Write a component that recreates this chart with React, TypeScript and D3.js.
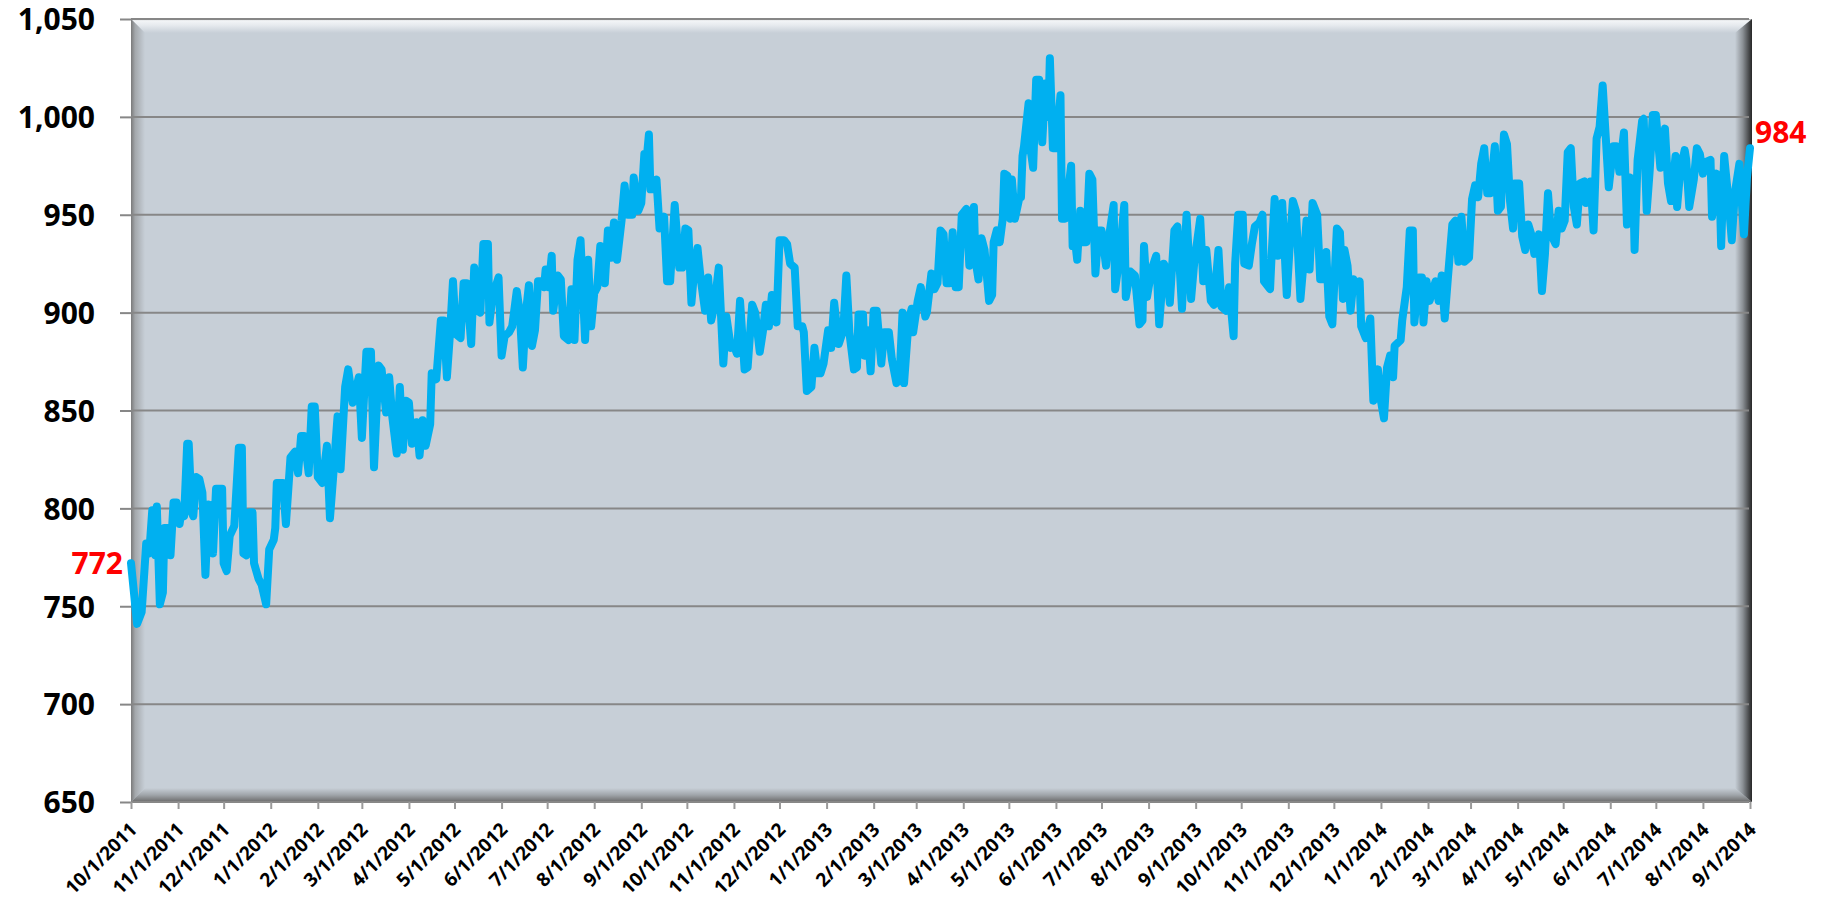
import React, { useEffect, useRef } from 'react';
import * as d3 from 'd3';

// daily closes; offsets are calendar days after 10/1/2011
const startDate = new Date(2011, 9, 1);
const endDate = new Date(2014, 8, 1);

const dayOffsets = [
  0, 4, 7, 9, 10, 12, 14, 16, 17, 19, 21, 22, 25, 26, 28, 30, 32, 33, 35, 37,
  38, 40, 41, 43, 45, 47, 49, 51, 53, 54, 56, 60, 61, 63, 65, 68, 71, 73, 74, 76,
  78, 80, 81, 84, 86, 89, 91, 94, 95, 96, 100, 102, 105, 108, 110, 112, 114, 117, 119, 121,
  123, 126, 129, 131, 133, 136, 138, 141, 143, 146, 150, 152, 155, 158, 160, 163, 165, 168, 170, 172,
  175, 177, 179, 181, 183, 185, 188, 190, 192, 194, 197, 198, 201, 204, 206, 208, 210, 212, 214, 217,
  219, 221, 224, 226, 228, 230, 232, 235, 236, 238, 242, 244, 246, 249, 251, 254, 256, 258, 260, 262,
  264, 266, 268, 270, 272, 273, 275, 277, 278, 281, 283, 285, 288, 290, 292, 294, 296, 299, 301, 303,
  305, 307, 309, 312, 314, 316, 318, 320, 323, 325, 327, 330, 331, 334, 336, 338, 339, 341, 342, 344,
  346, 348, 351, 353, 355, 358, 361, 363, 365, 367, 369, 371, 373, 375, 378, 380, 382, 384, 387, 390,
  392, 395, 397, 399, 401, 404, 406, 409, 411, 414, 416, 418, 420, 422, 425, 427, 430, 432, 434, 437,
  439, 442, 443, 445, 448, 450, 452, 454, 456, 459, 461, 463, 466, 469, 471, 473, 476, 478, 479, 482,
  483, 485, 487, 489, 491, 494, 496, 499, 501, 504, 506, 508, 509, 512, 514, 515, 518, 520, 523, 524,
  527, 529, 531, 533, 535, 537, 539, 541, 543, 545, 547, 550, 552, 555, 556, 558, 560, 562, 565, 567,
  568, 570, 572, 574, 575, 577, 579, 580, 582, 585, 586, 587, 588, 591, 592, 594, 596, 598, 600, 602,
  604, 605, 607, 609, 612, 613, 615, 619, 620, 622, 623, 625, 627, 629, 631, 633, 635, 637, 639, 642,
  644, 647, 648, 651, 654, 655, 658, 661, 664, 666, 667, 669, 672, 675, 677, 680, 682, 684, 687, 689,
  692, 695, 698, 700, 704, 706, 708, 711, 713, 716, 718, 721, 723, 726, 727, 729, 732, 733, 736, 738,
  740, 743, 745, 746, 750, 751, 753, 755, 758, 761, 763, 765, 767, 770, 772, 774, 776, 778, 781, 783,
  785, 787, 789, 791, 794, 796, 798, 799, 801, 803, 805, 807, 809, 810, 813, 816, 818, 821, 823, 825,
  827, 829, 831, 832, 836, 837, 840, 842, 844, 845, 848, 850, 851, 853, 855, 859, 861, 863, 865, 867,
  870, 872, 874, 876, 878, 881, 883, 885, 887, 889, 891, 893, 895, 898, 900, 902, 904, 906, 908, 910,
  911, 914, 916, 918, 920, 922, 924, 927, 929, 931, 933, 935, 938, 940, 942, 944, 946, 948, 950, 952,
  954, 957, 958, 961, 963, 965, 967, 969, 971, 973, 976, 978, 980, 983, 985, 987, 989, 990, 992, 995,
  996, 998, 1000, 1002, 1004, 1007, 1010, 1012, 1014, 1017, 1018, 1020, 1023, 1024, 1026, 1029, 1031, 1033, 1035, 1037,
  1040, 1041, 1044, 1046, 1047, 1049, 1052, 1054, 1056, 1059, 1062, 1064, 1066,
];

const prices = [
  772, 741, 747, 770, 782, 777, 799, 776, 801, 751, 757, 790, 790, 776, 803, 803, 792, 798, 796, 833,
  833, 798, 796, 816, 815, 808, 766, 802, 801, 777, 810, 810, 772, 768, 786, 791, 831, 831, 777, 776,
  798, 798, 772, 764, 761, 751, 779, 784, 790, 813, 813, 792, 826, 829, 818, 837, 837, 818, 852, 852,
  816, 813, 832, 795, 815, 847, 820, 862, 871, 854, 867, 836, 880, 880, 821, 873, 871, 849, 867, 847,
  828, 862, 830, 855, 854, 833, 844, 827, 845, 832, 843, 869, 866, 896, 896, 867, 889, 916, 889, 887,
  915, 915, 884, 923, 901, 900, 935, 935, 895, 908, 918, 878, 888, 890, 893, 911, 900, 872, 900, 914,
  883, 891, 916, 916, 913, 922, 913, 929, 901, 919, 917, 888, 886, 912, 886, 927, 937, 886, 927, 893,
  910, 913, 934, 915, 942, 928, 946, 927, 947, 965, 950, 950, 969, 952, 956, 981, 974, 991, 963, 963,
  968, 943, 949, 916, 916, 955, 923, 923, 943, 942, 905, 923, 933, 918, 901, 918, 896, 903, 923, 874,
  898, 882, 883, 879, 906, 871, 872, 904, 900, 880, 890, 904, 893, 909, 895, 937, 937, 935, 925, 923,
  893, 893, 890, 860, 862, 882, 869, 869, 874, 891, 882, 905, 884, 891, 919, 890, 871, 872, 899, 899,
  878, 891, 870, 901, 901, 874, 890, 890, 876, 864, 866, 900, 864, 896, 902, 890, 906, 913, 898, 900,
  920, 912, 915, 942, 940, 915, 915, 941, 913, 913, 950, 953, 924, 954, 927, 917, 938, 932, 906, 909,
  936, 942, 936, 948, 971, 970, 948, 968, 948, 959, 959, 980, 985, 1007, 985, 974, 1019, 1019, 987, 1017,
  1000, 1030, 984, 984, 1011, 948, 948, 975, 934, 934, 927, 952, 936, 936, 971, 968, 920, 942, 942, 924,
  939, 955, 912, 929, 955, 908, 921, 919, 894, 896, 934, 908, 922, 929, 894, 925, 922, 905, 942, 944,
  902, 950, 907, 925, 948, 916, 932, 906, 904, 932, 903, 901, 913, 888, 925, 950, 950, 925, 924, 935,
  944, 946, 950, 916, 912, 929, 958, 929, 956, 909, 935, 957, 952, 907, 925, 947, 922, 956, 950, 917,
  917, 931, 898, 894, 943, 941, 907, 932, 924, 901, 917, 913, 916, 893, 887, 897, 855, 871, 855, 846,
  872, 878, 867, 883, 886, 896, 913, 942, 942, 895, 918, 918, 895, 916, 906, 916, 906, 919, 897, 917,
  945, 947, 926, 949, 926, 928, 958, 965, 959, 976, 984, 961, 961, 985, 952, 954, 991, 986, 957, 943,
  966, 966, 939, 932, 945, 940, 930, 940, 911, 930, 961, 940, 935, 952, 943, 947, 982, 984, 954, 945,
  966, 967, 956, 967, 942, 989, 995, 1016, 990, 964, 985, 985, 972, 992, 945, 969, 968, 932, 978, 998,
  999, 952, 973, 1001, 1001, 974, 994, 966, 957, 980, 954, 972, 983, 978, 954, 968, 984, 981, 971, 977,
  978, 949, 971, 964, 934, 980, 956, 937, 961, 976, 940, 969, 984,
];

const yTicks = [650, 700, 750, 800, 850, 900, 950, 1000, 1050];

const W = 1835;
const H = 902;
const margin = { top: 19, right: 83, bottom: 100, left: 131 };

const App = () => {
  const ref = useRef<SVGSVGElement>(null);

  useEffect(() => {
    draw();
  });

  const draw = () => {
    const svg = d3.select(ref.current);
    svg.selectAll('*').remove();

    const x0 = margin.left;
    const x1 = W - margin.right;
    const y0 = margin.top;
    const y1 = H - margin.bottom;

    const data = d3.zip(dayOffsets, prices).map(([d, v]) => ({
      date: d3.timeDay.offset(startDate, d),
      value: v,
    }));

    const x = d3.scaleTime().domain([startDate, endDate]).range([x0, x1 - 2]);
    const y = d3.scaleLinear().domain([650, 1050]).range([y1, y0]);

    const fill = '#c7cfd7';
    const defs = svg.append('defs');
    const grad = (id: string, x2: number, y2: number, stops: [number, string][]) => {
      const g = defs.append('linearGradient').attr('id', id)
        .attr('x1', 0).attr('y1', 0).attr('x2', x2).attr('y2', y2);
      stops.forEach(([o, c]) => g.append('stop').attr('offset', o).attr('stop-color', c));
    };
    grad('bvTop', 0, 1, [[0, '#9c9c9c'], [0.12, '#f3f5f7'], [0.45, '#e6eaee'], [1, fill]]);
    grad('bvLeft', 1, 0, [[0, '#7a7a7a'], [0.3, '#a4a8ac'], [1, fill]]);
    grad('bvRight', 1, 0, [[0, fill], [0.45, '#8c9196'], [1, '#262626']]);
    grad('bvBottom', 0, 1, [[0, fill], [0.5, '#a0a5aa'], [1, '#6a6a6a']]);

    // plot area with bevel
    svg.append('rect')
      .attr('x', x0).attr('y', y0).attr('width', x1 - x0).attr('height', y1 - y0)
      .attr('fill', fill);
    const b = 14;
    const br = 17;
    const poly = (pts: number[][], f: string) =>
      svg.append('polygon').attr('points', pts.map((p) => p.join(',')).join(' ')).attr('fill', f);
    poly([[x0, y0], [x1, y0], [x1 - br, y0 + b], [x0 + b, y0 + b]], 'url(#bvTop)');
    poly([[x0, y0], [x0 + b, y0 + b], [x0 + b, y1 - b], [x0, y1]], 'url(#bvLeft)');
    poly([[x0, y1], [x0 + b, y1 - b], [x1 - br, y1 - b], [x1, y1]], 'url(#bvBottom)');
    poly([[x1, y0], [x1 - br, y0 + b], [x1 - br, y1 - b], [x1, y1]], 'url(#bvRight)');

    // gridlines
    svg.append('g')
      .selectAll('line')
      .data(yTicks)
      .enter()
      .append('line')
      .attr('x1', x0).attr('x2', x1 - 3)
      .attr('y1', (d) => y(d)).attr('y2', (d) => y(d))
      .attr('stroke', '#878787')
      .attr('stroke-width', 2);

    // y axis
    const yAxis = svg.append('g')
      .attr('transform', `translate(${x0},0)`)
      .call(d3.axisLeft(y).tickValues(yTicks).tickSize(11).tickPadding(25).tickFormat(d3.format(',')));
    yAxis.select('.domain').remove();
    yAxis.selectAll('.tick line').attr('stroke', '#878787').attr('stroke-width', 2);
    yAxis.selectAll('.tick text')
      .attr('fill', '#000')
      .attr('dy', '0.36em')
      .style('font-family', '"Open Sans", sans-serif')
      .style('font-weight', 700)
      .style('font-size', '30px');

    // x axis
    const xAxis = svg.append('g')
      .attr('transform', `translate(0,${y1})`)
      .call(d3.axisBottom(x).ticks(d3.timeMonth.every(1)).tickSize(7).tickFormat((d) => d3.timeFormat('%-m/%-d/%Y')(d as Date)));
    xAxis.select('.domain').remove();
    xAxis.selectAll('.tick line').attr('stroke', '#9a9a9a').attr('stroke-width', 2);
    xAxis.selectAll('.tick text')
      .attr('fill', '#000')
      .attr('x', 0).attr('y', 0).attr('dy', '0.35em')
      .attr('text-anchor', 'end')
      .attr('transform', 'translate(2,24) rotate(-45)')
      .style('font-family', '"Open Sans", sans-serif')
      .style('font-weight', 700)
      .style('font-size', '19px');

    // price line
    const line = d3.line<{ date: Date; value: number }>()
      .x((d) => x(d.date))
      .y((d) => y(d.value));
    svg.append('path')
      .datum(data)
      .attr('d', line)
      .attr('fill', 'none')
      .attr('stroke', '#00b0f0')
      .attr('stroke-width', 8)
      .attr('stroke-linejoin', 'round')
      .attr('stroke-linecap', 'round');

    // first / last value labels
    const first = data[0];
    const last = data[data.length - 1];
    svg.append('text')
      .attr('x', x0 - 8).attr('y', y(first.value)).attr('dy', '0.35em')
      .attr('text-anchor', 'end')
      .attr('fill', '#ff0000')
      .style('font-family', '"Open Sans", sans-serif')
      .style('font-weight', 700)
      .style('font-size', '30px')
      .text(first.value);
    svg.append('text')
      .attr('x', x1 + 3).attr('y', y(last.value) - 16).attr('dy', '0.35em')
      .attr('text-anchor', 'start')
      .attr('fill', '#ff0000')
      .style('font-family', '"Open Sans", sans-serif')
      .style('font-weight', 700)
      .style('font-size', '30px')
      .text(last.value);
  };

  return (
    <svg
      ref={ref}
      width={W}
      height={H}
      style={{ position: 'absolute', left: 0, top: 0, background: '#fff' }}
    />
  );
};

export default App;
